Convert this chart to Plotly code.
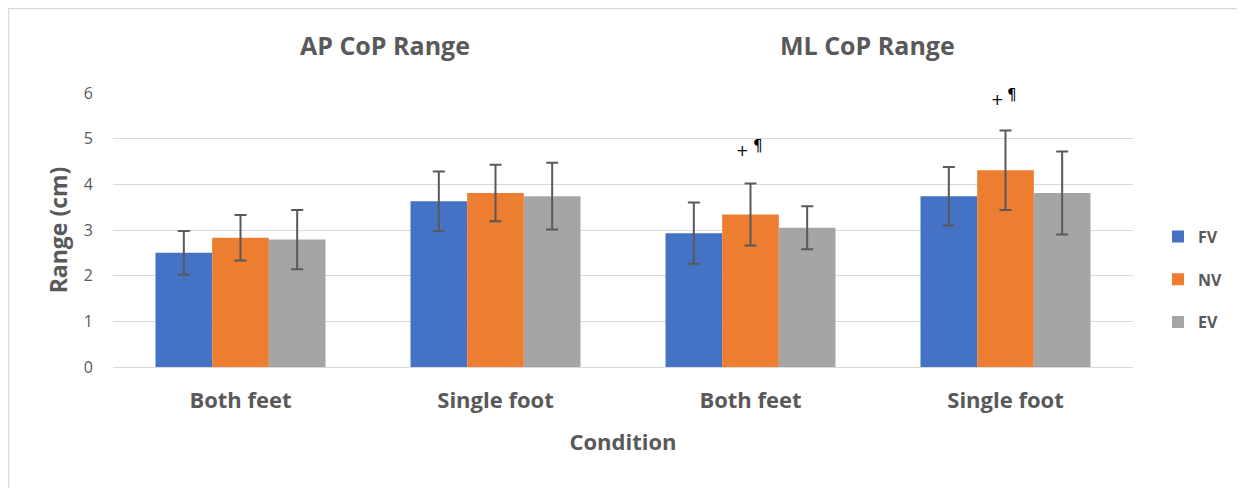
import plotly.graph_objects as go

categories = ["Both feet", "Single foot", "Both feet", "Single foot"]
panel_titles = ["AP CoP Range", "ML CoP Range"]
series_names = ["FV", "NV", "EV"]
fv = [2.50, 3.63, 2.93, 3.74]
nv = [2.83, 3.81, 3.34, 4.31]
ev = [2.79, 3.74, 3.05, 3.81]
fv_err = [0.48, 0.65, 0.67, 0.64]
nv_err = [0.50, 0.62, 0.68, 0.87]
ev_err = [0.65, 0.73, 0.47, 0.91]
y_ticks = [0, 1, 2, 3, 4, 5, 6]

colors = ["#4472C4", "#ED7D31", "#A5A5A5"]
txt = "#595959"
FONT = "Open Sans"

xs = list(range(len(categories)))
fig = go.Figure()
for i, (name, vals, errs) in enumerate(zip(series_names, [fv, nv, ev], [fv_err, nv_err, ev_err])):
    fig.add_trace(go.Bar(
        x=xs, y=vals, name=name, marker=dict(color=colors[i], line=dict(width=0)),
        error_y=dict(type="data", array=errs, visible=True, color=txt, thickness=2, width=6),
        legendgroup=name,
    ))

# page body has an 8px margin, so the figure is laid out 8px smaller
fig.update_layout(
    width=1237, height=480,
    margin=dict(l=105, r=112, t=85, b=121),
    paper_bgcolor="white", plot_bgcolor="white",
    barmode="group", bargap=1/3, bargroupgap=0,
    font=dict(family=FONT, color=txt),
    showlegend=True,
    legend=dict(x=1.0245, y=0.538, xanchor="left", yanchor="top",
                font=dict(family=FONT, size=16, color=txt, weight="bold"),
                traceorder="grouped", tracegroupgap=19, itemwidth=30),
    xaxis=dict(tickmode="array", tickvals=xs, ticktext=categories, range=[-0.5, 3.5],
               showgrid=False, zeroline=False, showline=False, ticks="",
               tickfont=dict(family=FONT, size=22, color=txt, weight="bold"),
               ticklabelstandoff=18,
               title=dict(text="Condition", font=dict(family=FONT, size=22, color=txt, weight="bold"), standoff=21)),
    yaxis=dict(range=[0, 6], tickvals=y_ticks, showgrid=True, gridcolor="#d9d9d9", gridwidth=1.3,
               zeroline=True, zerolinecolor="#d9d9d9", zerolinewidth=1.3, showline=False, ticks="",
               tickfont=dict(family=FONT, size=16, color=txt), ticklabelstandoff=19,
               title=dict(text="Range (cm)", font=dict(family=FONT, size=23, color=txt, weight="bold"), standoff=9)),
    shapes=[dict(type="rect", xref="paper", yref="paper", x0=-0.1025, x1=1.1088, y0=-0.6, y1=1.308,
                 line=dict(color="#d9d9d9", width=1.5), fillcolor="rgba(0,0,0,0)", layer="below")],
)

for t, xp in zip(panel_titles, [0.2667, 0.740]):
    fig.add_annotation(text=t, x=xp, y=1.176, xref="paper", yref="paper", showarrow=False,
                       xanchor="center", yanchor="middle",
                       font=dict(family=FONT, size=25, color=txt, weight="bold"))

marks = [(1.97, 4.72, "+"), (2.028, 4.84, "¶"), (2.967, 5.84, "+"), (3.025, 5.96, "¶")]
for mx, my, mt in marks:
    fig.add_annotation(text=mt, x=mx, y=my, xref="x", yref="y", showarrow=False,
                       xanchor="center", yanchor="middle",
                       font=dict(family="DejaVu Sans", size=15, color="#000000"))

fig.write_html("out.html")
